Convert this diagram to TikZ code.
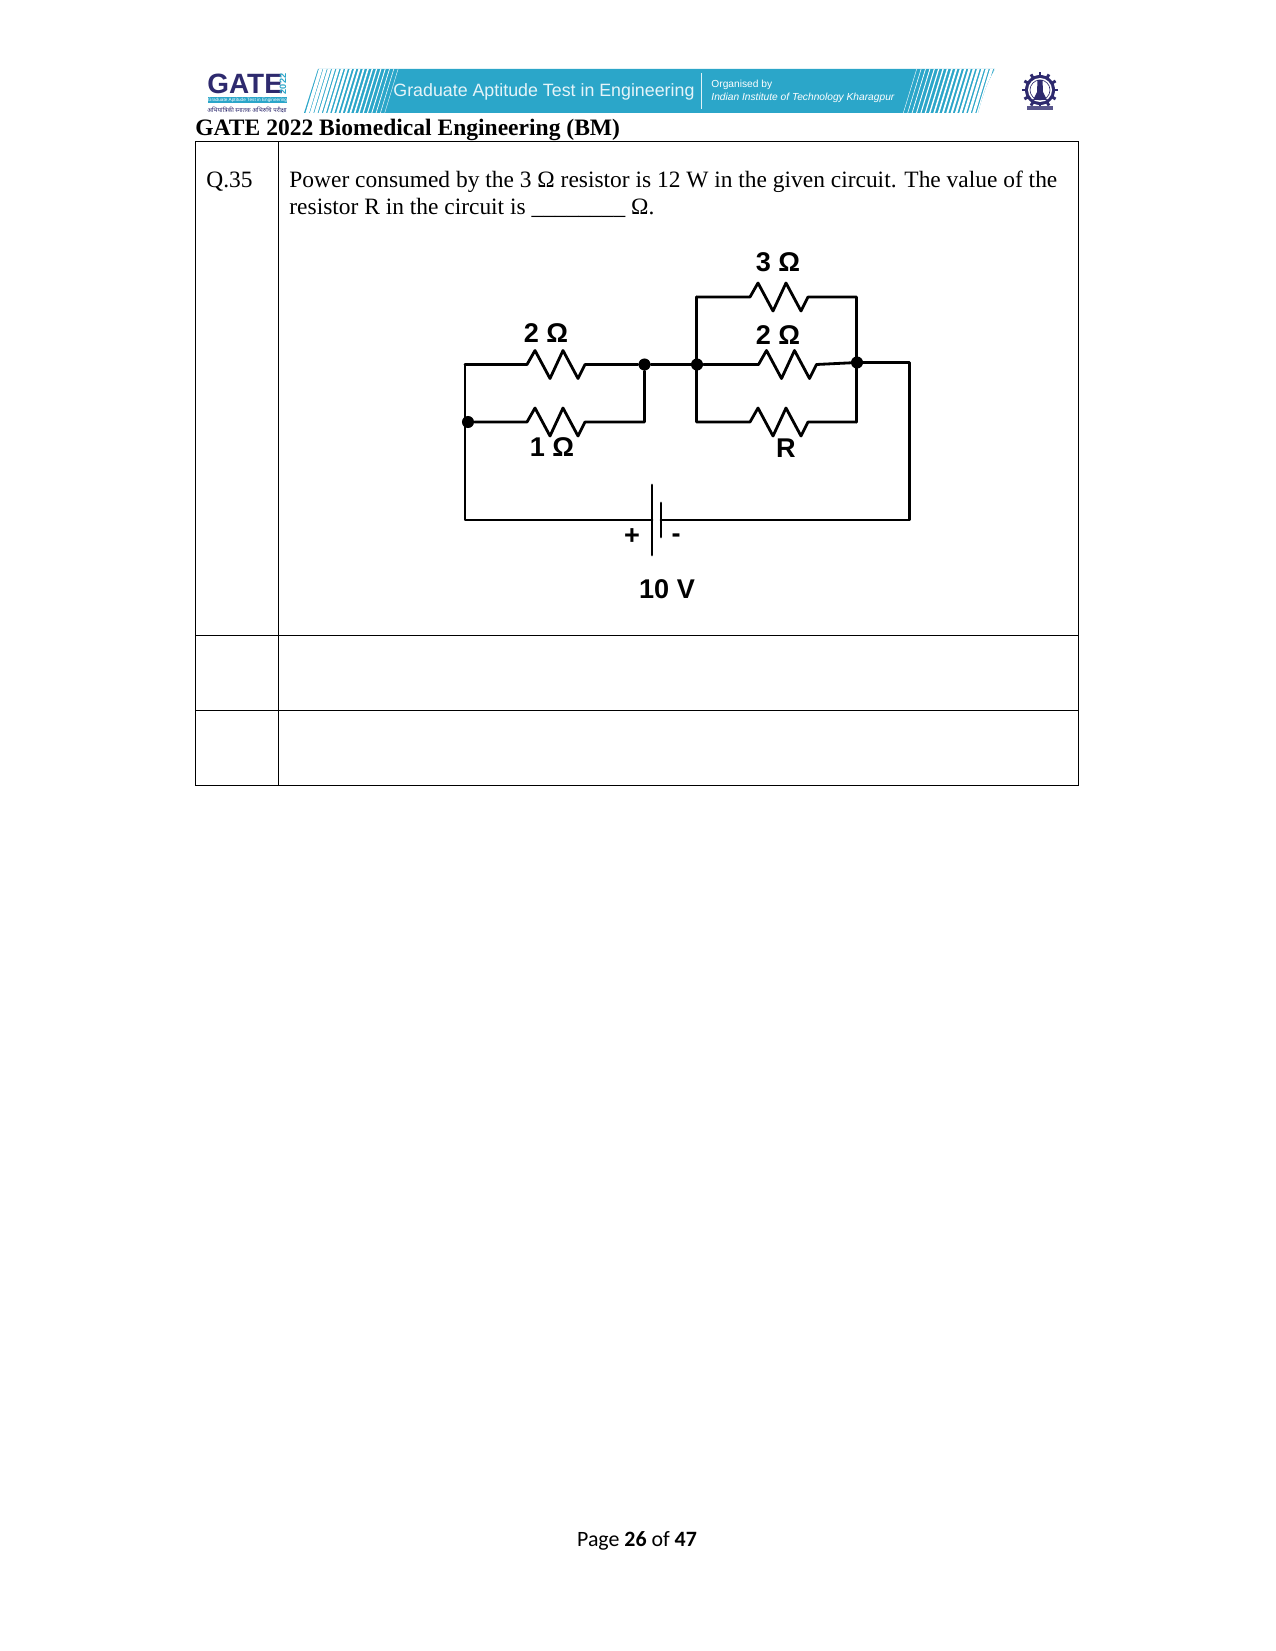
\documentclass[tikz,border=0pt]{standalone}
\usepackage{fontspec}
\setmainfont{Liberation Serif}
\newfontfamily\armfont{Liberation Sans}
\newfontfamily\footfont{Carlito}
\newfontfamily\devfont[Script=Devanagari]{Noto Sans}
\definecolor{bannerblue}{HTML}{2BA6C9}
\definecolor{logonavy}{HTML}{2E2A6E}
\tikzset{
	wire/.style={line width=1.35pt,line join=round,line cap=round},
	dot/.style={circle,fill=black,inner sep=0pt,minimum size=5.8pt},
	val/.style={font=\armfont\fontsize{13}{15}\selectfont\bfseries,inner sep=0pt},
	body/.style={font=\fontsize{11.25}{13}\selectfont,anchor=base west,inner sep=0pt},
	grid/.style={line width=0.42pt},
	zres/.style={insert path={-- ++(8,-14) -- ++(15,28) -- ++(13,-28) -- ++(15,28) -- ++(7,-14)}}
}
\begin{document}
\begin{tikzpicture}[x=0.48pt,y=-0.48pt]
	\useasboundingbox (0,0) rectangle (1275,1651);

	\fill[logonavy] (1040,90) circle[radius=15];
	\foreach \a in {0,30,...,330}
		\draw[logonavy,line width=1.4pt] (1040,90) ++(\a:13) -- ++(\a:5);
	\fill[white] (1040,90) circle[radius=12];
	\draw[logonavy,line width=0.3pt] (1040,90) circle[radius=10];
	\fill[logonavy] (1037.5,80) -- (1042.5,80) -- (1043,92) -- (1047,100) -- (1033,100) -- (1037,92) -- cycle;
	\fill[logonavy!80] (1027,106) rectangle (1053,110);

	\begin{scope}
		\clip (304,113) -- (318,69) -- (995,69) .. controls (986,84) and (982,98) .. (978,113) -- cycle;
		\fill[bannerblue] (300,60) rectangle (1000,120);
		\foreach \i in {0,...,18}
			\draw[white,line width={1.7pt-\i*0.085pt}] ({307+\i*4.3},114) -- ({321+\i*4.3},68);
		\foreach \i in {0,...,19}
			\draw[white,line width={0.2pt+\i*0.075pt}] ({903+\i*4.4},114) -- ({917+\i*4.4},68);
	\end{scope}
	\draw[white!85!bannerblue,line width=0.25pt] (701,73) -- (701,109);

	\node[anchor=west,inner sep=0pt,text=white!88!bannerblue,font=\armfont\fontsize{8.55}{10}\selectfont] (bantitle) at (393,92) {Graduate Aptitude Test in Engineering};
	\node[anchor=west,inner sep=0pt,text=white,font=\armfont\fontsize{4.9}{6}\selectfont] (banorg) at (711,85) {Organised by};
	\node[anchor=west,inner sep=0pt,text=white,font=\armfont\itshape\fontsize{4.9}{6}\selectfont] (baninst) at (711,98) {Indian Institute of Technology Kharagpur};

	\node[anchor=base west,inner sep=0pt,text=logonavy,font=\armfont\bfseries\fontsize{13.4}{16}\selectfont] (gatelogo) at (207,94) {GATE};
	\node[rotate=90,inner sep=0pt,text=bannerblue,font=\armfont\bfseries\fontsize{4.4}{5}\selectfont] (gateyear) at (283,84) {2022};
	\fill[bannerblue] (208,97) rectangle (287,103);
	\node[inner sep=0pt,text=white,font=\armfont\fontsize{2.25}{3}\selectfont] (gatestrip) at (247.5,100) {Graduate Aptitude Test in Engineering};
	\node[inner sep=0pt,text=logonavy,font=\devfont\fontsize{2.9}{4}\selectfont] (gatehindi) at (247,110) {अभियांत्रिकी स्नातक अभिरुचि परीक्षा};

	\node[body,font=\fontsize{11.3}{13}\selectfont\bfseries] (title) at (195,135.5) {GATE 2022 Biomedical Engineering (BM)};

	\draw[grid] (195,141.5) rectangle (1078,785.5);
	\draw[grid] (278.5,141.5) -- (278.5,785.5);
	\draw[grid] (195,635.5) -- (1078,635.5);
	\draw[grid] (195,710.5) -- (1078,710.5);

	\node[body] (qno) at (206,188) {Q.35};
	\node[body] (qone) at (289,188) {Power consumed by the 3 Ω resistor is 12 W in the given circuit. The value of the};
	\node[body] (qtwo) at (289,215) {resistor R in the circuit is \_\_\_\_\_\_\_\_ Ω.};

	\node[dot] (lft) at (468,422) {};
	\node[dot] (mida) at (644.5,364.5) {};
	\node[dot] (midb) at (697,364.5) {};
	\node[dot] (rgt) at (857,362.5) {};
	\coordinate (lfttop) at (465,364.5);
	\coordinate (lftbot) at (465,520);
	\coordinate (midalow) at (644.5,422);
	\coordinate (midbtop) at (696.5,297);
	\coordinate (midblow) at (696.5,422);
	\coordinate (rgtup) at (856.5,297);
	\coordinate (rgtlow) at (856.5,422);
	\coordinate (farup) at (909.5,362.5);
	\coordinate (farbot) at (909.5,520);
	\coordinate (plusb) at (652,520);
	\coordinate (minusb) at (661,520);

	\draw[wire] (lfttop) -- (527,364.5) [zres] -- (mida);
	\draw[wire] (lft) -- (527,422) [zres] -- (midalow) -- (mida);
	\draw[wire] (mida) -- (midb);
	\draw[wire] (midbtop) -- (750,297) [zres] -- (rgtup) -- (rgtlow);
	\draw[wire] (midb) -- (758.5,364.5) [zres] -- (816.5,364.5) -- (rgt);
	\draw[wire] (midbtop) -- (midblow) -- (750,422) [zres] -- (rgtlow);
	\draw[wire] (rgt) -- (farup) -- (farbot) -- (minusb);
	\draw[wire] (lfttop) -- (lftbot) -- (plusb);
	\draw[wire] (652,485) -- (652,555);
	\draw[wire] (661,503) -- (661,537);

	\node[val] (rthree) at (778,262) {3 Ω};
	\node[val] (rtwoa) at (546,333) {2 Ω};
	\node[val] (rtwob) at (778,335) {2 Ω};
	\node[val] (rone) at (552,447.5) {1 Ω};
	\node[val] (rx) at (786,448) {R};
	\node[val] (plus) at (632,537) {+};
	\node[val] (minus) at (676,538) {-};
	\node[val] (volt) at (667,589) {10 V};

	\node[anchor=base,inner sep=0pt,font=\footfont\fontsize{10.5}{13}\selectfont] (foot) at (637,1546) {Page \textbf{26} of \textbf{47}};
\end{tikzpicture}
\end{document}
